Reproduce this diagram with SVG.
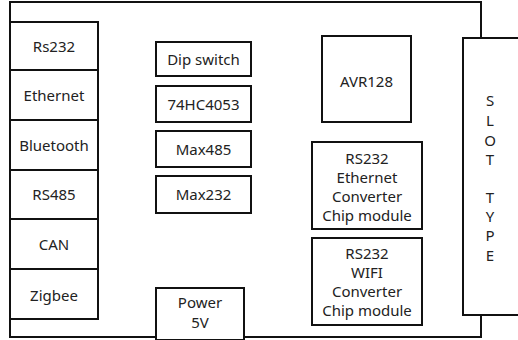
<svg xmlns="http://www.w3.org/2000/svg" width="518" height="340" viewBox="0 0 518 340">
<style>
rect{fill:#fff;stroke:#111;stroke-width:2}
text{font-family:"Noto Sans","Open Sans","DejaVu Sans",sans-serif;font-size:15px;fill:#222;text-anchor:middle}
</style>
<g id="board"><rect x="10" y="2" width="471" height="335"/></g>
<g id="connectors"></g>
<g id="rs232"><rect x="10" y="22" width="88" height="48"/><text x="54" y="52">Rs232</text></g>
<g id="ethernet"><rect x="10" y="70" width="88" height="50"/><text x="54" y="101">Ethernet</text></g>
<g id="bluetooth"><rect x="10" y="120" width="88" height="50"/><text x="54" y="151">Bluetooth</text></g>
<g id="rs485"><rect x="10" y="170" width="88" height="49"/><text x="54" y="200">RS485</text></g>
<g id="can"><rect x="10" y="219" width="88" height="50"/><text x="54" y="250">CAN</text></g>
<g id="zigbee"><rect x="10" y="269" width="88" height="50"/><text x="54" y="301">Zigbee</text></g>
<g id="dip"><rect x="156" y="42" width="95" height="34"/><text x="203.5" y="65">Dip switch</text></g>
<g id="hc4053"><rect x="156" y="86" width="95" height="36"/><text x="203.5" y="110">74HC4053</text></g>
<g id="max485"><rect x="156" y="131" width="95" height="36"/><text x="203.5" y="155">Max485</text></g>
<g id="max232"><rect x="156" y="176" width="95" height="37"/><text x="203.5" y="200">Max232</text></g>
<g id="power"><rect x="156" y="288" width="88" height="52"/><text x="200" y="308">Power</text><text x="200" y="328">5V</text></g>
<g id="avr"><rect x="322" y="36" width="89" height="86"/><text x="366.5" y="87">AVR128</text></g>
<g id="eth-conv"><rect x="312" y="142" width="110" height="87"/><text x="367" y="164">RS232</text><text x="367" y="183">Ethernet</text><text x="367" y="202">Converter</text><text x="367" y="221">Chip module</text></g>
<g id="wifi-conv"><rect x="312" y="238" width="110" height="87"/><text x="367" y="259">RS232</text><text x="367" y="278">WIFI</text><text x="367" y="297">Converter</text><text x="367" y="316">Chip module</text></g>
<g id="slot"><rect x="463" y="38" width="60" height="277"/>
<text x="490" y="106">S</text><text x="490" y="126">L</text><text x="490" y="146">O</text><text x="490" y="165">T</text>
<text x="490" y="203">T</text><text x="490" y="222">Y</text><text x="490" y="241">P</text><text x="490" y="261">E</text></g>
</svg>
